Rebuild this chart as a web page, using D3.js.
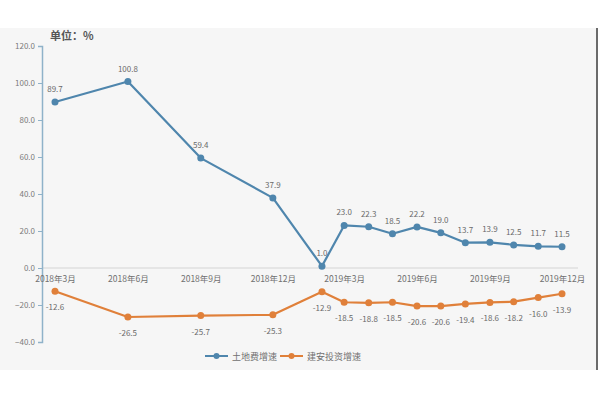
<!DOCTYPE html>
<html><head><meta charset="utf-8">
<script src="https://cdn.jsdelivr.net/npm/d3@7"></script>
<style>html,body{margin:0;padding:0;background:#fff;}svg{display:block;}</style>
</head><body>
<svg id="c" width="600" height="400"></svg>
<script>
const months = ["2018-03","2018-06","2018-09","2018-12","2019-02","2019-03","2019-04","2019-05","2019-06","2019-07","2019-08","2019-09","2019-10","2019-11","2019-12"];
const landFee = [89.7,100.8,59.4,37.9,1.0,23.0,22.3,18.5,22.2,19.0,13.7,13.9,12.5,11.7,11.5];
const construction = [-12.6,-26.5,-25.7,-25.3,-12.9,-18.5,-18.8,-18.5,-20.6,-20.6,-19.4,-18.6,-18.2,-16.0,-13.9];
const tickMonths = ["2018-03","2018-06","2018-09","2018-12","2019-03","2019-06","2019-09","2019-12"];
const yTicks = [-40,-20,0,20,40,60,80,100,120];
const seriesNames = ["土地费增速","建安投资增速"];
const colors = ["#4f86ad","#e0803a"];

const parse = d3.timeParse("%Y-%m");
const svg = d3.select("#c");
const font = "'Noto Sans CJK SC','Noto Sans',sans-serif";

svg.append("rect").attr("x",0).attr("y",28).attr("width",597).attr("height",342).attr("fill","#f6f6f6");
svg.append("line").attr("x1",597).attr("x2",597).attr("y1",28).attr("y2",370).attr("stroke","#6b6b6b").attr("stroke-width",2);

const x = d3.scaleTime().domain([parse("2018-03"),parse("2019-12")]).range([55,562]);
const y = d3.scaleLinear().domain([-40,120]).range([342,46]);

// x axis baseline
svg.append("line").attr("x1",42).attr("x2",578).attr("y1",y(0)).attr("y2",y(0)).attr("stroke","#d4d4d4").attr("stroke-width",1);

// y axis
const yAxis = d3.axisLeft(y).tickValues(yTicks).tickFormat(d3.format(".1f")).tickSize(4).tickPadding(3);
const ya = svg.append("g").attr("transform","translate(42,0)").call(yAxis);
ya.select(".domain").attr("stroke","#8fb2c9").attr("stroke-width",1.5);
ya.selectAll(".tick line").attr("stroke","#8fb2c9");
ya.selectAll("text").attr("fill","#7a7a7a").style("font-size","8px").style("font-family",font);

// x tick labels
const xAxis = d3.axisBottom(x).tickValues(tickMonths.map(parse)).tickFormat(d => d3.timeFormat("%Y")(d)+"年"+(d.getMonth()+1)+"月").tickSize(0).tickPadding(8);
const xa = svg.append("g").attr("transform",`translate(0,${y(0)})`).call(xAxis);
xa.select(".domain").remove();
xa.selectAll("text").attr("fill","#707070").style("font-size","8.5px").style("font-family",font);

// title
svg.append("text").attr("x",50).attr("y",40).text("单位：%").attr("fill","#555").style("font-size","11px").style("font-weight","bold").style("font-family",font);

const series = [landFee, construction];
series.forEach((vals,si) => {
  const pts = vals.map((v,i) => ({d:parse(months[i]), v}));
  const line = d3.line().x(p=>x(p.d)).y(p=>y(p.v));
  svg.append("path").datum(pts).attr("d",line).attr("fill","none").attr("stroke",colors[si]).attr("stroke-width",2.2).attr("stroke-linejoin","round");
  svg.append("g").selectAll("circle").data(pts).join("circle")
    .attr("cx",p=>x(p.d)).attr("cy",p=>y(p.v)).attr("r",3.5).attr("fill",colors[si]);
  svg.append("g").selectAll("text").data(pts).join("text")
    .attr("x",p=>x(p.d)).attr("y",p=> si===0 ? y(p.v)-10 : y(p.v)+19)
    .attr("text-anchor","middle").text(p=>p.v.toFixed(1))
    .attr("fill","#6a6a6a").style("font-size","8px").style("font-family",font);
});

// legend
const legend = svg.append("g").attr("transform","translate(205,356)");
const lx = [0,75];
seriesNames.forEach((n,i)=>{
  const g = legend.append("g").attr("transform",`translate(${lx[i]},0)`);
  g.append("line").attr("x1",0).attr("x2",23).attr("y1",0).attr("y2",0).attr("stroke",colors[i]).attr("stroke-width",2);
  g.append("circle").attr("cx",11.5).attr("cy",0).attr("r",3).attr("fill",colors[i]);
  g.append("text").attr("x",27).attr("y",3.5).text(n).attr("fill","#707070").style("font-size","9px").style("font-family",font);
});
</script>
</body></html>
